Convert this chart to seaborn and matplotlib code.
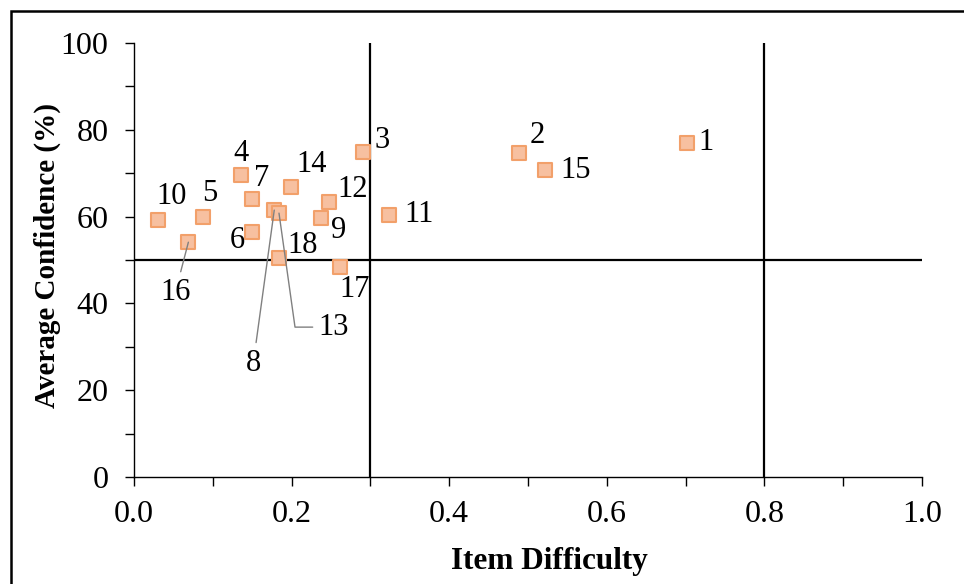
import matplotlib
matplotlib.use("Agg")
import matplotlib.pyplot as plt
from matplotlib.patches import Rectangle
from matplotlib.ticker import MultipleLocator, FormatStrFormatter
import seaborn as sns
import pandas as pd

# ---- data ----
items = ["1", "2", "3", "4", "5", "6", "7", "8", "9", "10",
         "11", "12", "13", "14", "15", "16", "17", "18"]
difficulty = [0.702, 0.489, 0.291, 0.136, 0.088, 0.150, 0.150, 0.178, 0.237, 0.030,
              0.324, 0.248, 0.184, 0.199, 0.522, 0.069, 0.262, 0.184]
confidence = [77.0, 74.7, 74.8, 69.7, 59.8, 56.5, 64.0, 61.5, 59.6, 59.2,
              60.4, 63.4, 60.8, 66.9, 70.7, 54.1, 48.3, 50.4]
x_ticks = [0.0, 0.2, 0.4, 0.6, 0.8, 1.0]
y_ticks = [0, 20, 40, 60, 80, 100]
x_cuts = [0.3, 0.8]
y_cut = 50

# label offsets (pixels, right/down positive) relative to each point
label_off = {
    "1": (19, 0), "2": (18, -17), "3": (19, -12), "4": (0, -21), "5": (6, -24),
    "6": (-15, 9), "7": (9, -21), "8": (-21, 153), "9": (18, 12), "10": (14, -24),
    "11": (30, 0), "12": (23, -12), "13": (55, 114), "14": (21, -22), "15": (30, 0),
    "16": (-13, 50), "17": (14, 22), "18": (24, -13),
}

df = pd.DataFrame({"item": items, "difficulty": difficulty, "confidence": confidence})

sns.set_style("ticks")
plt.rcParams["font.family"] = ["Liberation Serif", "DejaVu Serif"]

W, H, DPI = 964, 584, 100
fig = plt.figure(figsize=(W / DPI, H / DPI), dpi=DPI)
ax = fig.add_axes([134 / W, 1 - 477 / H, (922 - 134) / W, (477 - 43) / H])

for xc in x_cuts:
    ax.axvline(xc, color="black", lw=1.6, zorder=1)
ax.axhline(y_cut, color="black", lw=1.6, zorder=1)

sns.scatterplot(data=df, x="difficulty", y="confidence", marker="s", s=90,
                color="#F7C0A0", edgecolor="#F2A06A", linewidth=1.5, ax=ax,
                zorder=3, legend=False)

px2pt = 72 / DPI
for name, xv, yv in zip(items, difficulty, confidence):
    dx, dy = label_off[name]
    kw = dict(textcoords="offset points", ha="center", va="center",
              fontsize=22, color="black", zorder=4)
    if name in ("8", "16"):
        kw["arrowprops"] = dict(arrowstyle="-", color="#808080", lw=1.0,
                                shrinkA=2, shrinkB=0)
    elif name == "13":
        kw["arrowprops"] = dict(arrowstyle="-", color="#808080", lw=1.0,
                                shrinkA=2, shrinkB=0,
                                connectionstyle="angle,angleA=0,angleB=98,rad=0")
    ax.annotate(name, (xv, yv), xytext=(dx * px2pt, -dy * px2pt), **kw)

ax.set_xlim(0, 1.0)
ax.set_ylim(0, 100)
ax.set_xticks(x_ticks)
ax.set_yticks(y_ticks)
ax.xaxis.set_major_formatter(FormatStrFormatter("%.1f"))
ax.xaxis.set_minor_locator(MultipleLocator(0.1))
ax.yaxis.set_minor_locator(MultipleLocator(10))
ax.tick_params(axis="both", which="both", direction="out", length=6.5,
               width=1.0, color="black", labelsize=23, labelcolor="black")
ax.tick_params(axis="x", which="both", pad=10)
ax.tick_params(axis="y", which="both", pad=12)

for s in ("top", "right"):
    ax.spines[s].set_visible(False)
for s in ("left", "bottom"):
    ax.spines[s].set_color("black")
    ax.spines[s].set_linewidth(1.0)

ax.set_xlabel("Item Difficulty", fontsize=22.5, fontweight="bold", color="black")
ax.set_ylabel("Average Confidence (%)", fontsize=21, fontweight="bold", color="black")
ax.xaxis.set_label_coords(0.5 + (549 - 528) / 788, (477 - 547) / 434)
ax.yaxis.set_label_coords((61 - 134) / 788, (477 - 255) / 434)

fig.patches.append(Rectangle((10.5 / W, -0.2), 1.5, 1 - 11.5 / H + 0.2,
                             transform=fig.transFigure, fill=False,
                             edgecolor="black", lw=1.8))

fig.savefig("out.png", dpi=DPI)
